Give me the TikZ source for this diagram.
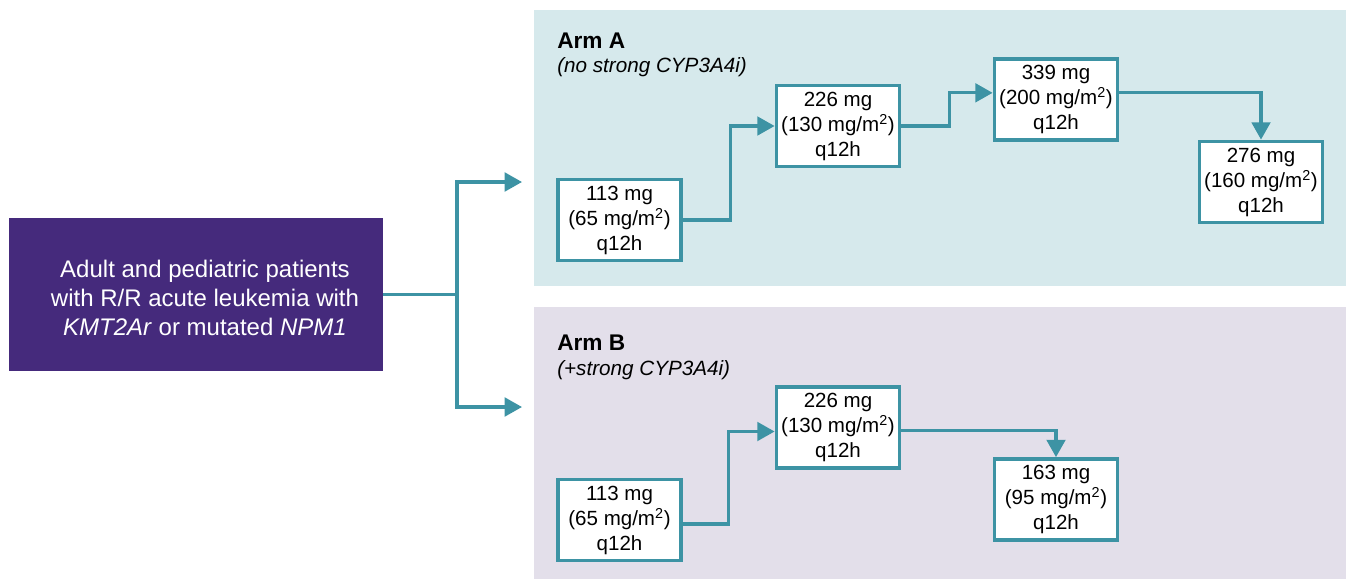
\documentclass[tikz,border=0pt]{standalone}
\usepackage{fontspec}
\setmainfont{Liberation Sans}
\usetikzlibrary{arrows.meta}
\definecolor{tealc}{HTML}{3D93A4}
\definecolor{panelA}{HTML}{D6E9EC}
\definecolor{panelB}{HTML}{E3DFEA}
\definecolor{purplec}{HTML}{452A7C}
\tikzset{
  dosebox/.style={draw=tealc, line width=2.6pt, fill=white, minimum width=92.5pt, minimum height=61pt,
    inner sep=0pt, align=center, font=\fontsize{15.4}{18.75}\selectfont},
  conn/.style={draw=tealc, line width=2.3pt, -{Triangle[length=13pt,width=14pt]}},
  plainconn/.style={draw=tealc, line width=2.3pt},
  armtitle/.style={anchor=base west, inner sep=0pt, font=\fontsize{17}{20}\selectfont\bfseries},
  armsub/.style={anchor=base west, inner sep=0pt, font=\fontsize{15.5}{19}\selectfont\itshape},
}
\begin{document}
\begin{tikzpicture}[x=0.75pt, y=-0.75pt]
\useasboundingbox (0,0) rectangle (1346,579);
% panels
\fill[panelA] (534,10) rectangle (1346,286);
\fill[panelB] (534,307) rectangle (1346,579);
% population box
\node[fill=purplec, minimum width=280.5pt, minimum height=114.75pt, inner sep=0pt] (P) at (196,294.5) {};
\node[text=white, align=center, inner sep=0pt, font=\fontsize{18}{21.75}\selectfont] (Ptext) at (205,298)
  {Adult and pediatric patients\\with R/R acute leukemia with\\\textit{KMT2Ar} or mutated \textit{NPM1}};
% split
\coordinate (split) at (457,294.5);
\coordinate (tA) at (522,182);
\coordinate (tB) at (522,407);
\draw[conn] (P.east) -- (split) |- (tA);
\draw[conn] (split) |- (tB);
% Arm A
\node[armtitle] (titleA) at (557,48) {Arm A};
\node[armsub] (subA) at (557,72) {(no strong CYP3A4i)};
\node[dosebox] (A1) at (619.5,220) {113 mg\\(65 mg/m\textsuperscript{2})\\q12h};
\node[dosebox] (A2) at (838,126) {226 mg\\(130 mg/m\textsuperscript{2})\\q12h};
\node[dosebox] (A3) at (1056,99.5) {339 mg\\(200 mg/m\textsuperscript{2})\\q12h};
\node[dosebox] (A4) at (1261,182) {276 mg\\(160 mg/m\textsuperscript{2})\\q12h};
\draw[conn] (A1.east) -- ++(48,0) |- (A2.west);
\draw[conn] (A2.east) -- ++(48,0) |- ([yshift=5pt]A3.west);
\draw[conn] ([yshift=5pt]A3.east) -| (A4.north);
% Arm B
\node[armtitle] (titleB) at (557,350) {Arm B};
\node[armsub] (subB) at (557,375) {(+strong CYP3A4i)};
\node[dosebox] (B1) at (619.5,520) {113 mg\\(65 mg/m\textsuperscript{2})\\q12h};
\node[dosebox] (B2) at (838,427.5) {226 mg\\(130 mg/m\textsuperscript{2})\\q12h};
\node[dosebox] (B3) at (1056,499.5) {163 mg\\(95 mg/m\textsuperscript{2})\\q12h};
\draw[conn] ([yshift=-3pt]B1.east) -- ++(46,0) |- ([yshift=-3pt]B2.west);
\draw[conn] ([yshift=-2pt]B2.east) -| (B3.north);
\end{tikzpicture}
\end{document}
